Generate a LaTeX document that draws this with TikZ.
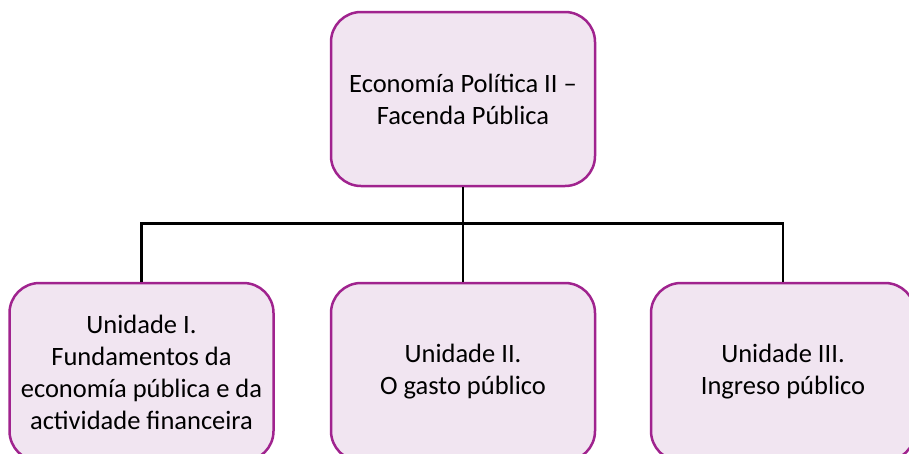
\documentclass[tikz,border=0pt]{standalone}
\usepackage{fontspec}
\setmainfont{Carlito}
\usepackage{xcolor}
\usepackage{tikz}
\usetikzlibrary{positioning}
\definecolor{boxline}{HTML}{A0238E}
\definecolor{boxfill}{HTML}{F1E5F1}

\begin{document}
\begin{tikzpicture}[x=1pt,y=-1pt]
\tikzstyle{unit}=[draw=boxline,fill=boxfill,line width=2.5pt,rounded corners=30pt,
  minimum width=264pt,minimum height=174pt,align=center,inner sep=0pt,
  font=\fontsize{26.5}{32}\selectfont]
\tikzstyle{conn}=[black,line width=2.5pt]
\useasboundingbox (0,0) rectangle (909,453);
\clip (0,0) rectangle (909,453);
\node [unit] (eco) at (463,99) {Economía Política II –\\Facenda Pública};
\node [unit,minimum height=178pt] (un1) at (141.5,372) {Unidade I.\\Fundamentos da\\economía pública e da\\actividade financeira};
\node [unit,minimum height=178pt] (un2) at (463,372) {Unidade II.\\O gasto público};
\node [unit,minimum height=178pt] (un3) at (783,372) {Unidade III.\\Ingreso público};
\draw [conn] (eco.south) -- (un2.north);
\draw [conn] (eco.south) ++(0,36) -| (un1.north);
\draw [conn] (eco.south) ++(0,36) -| (un3.north);
\end{tikzpicture}
\end{document}
